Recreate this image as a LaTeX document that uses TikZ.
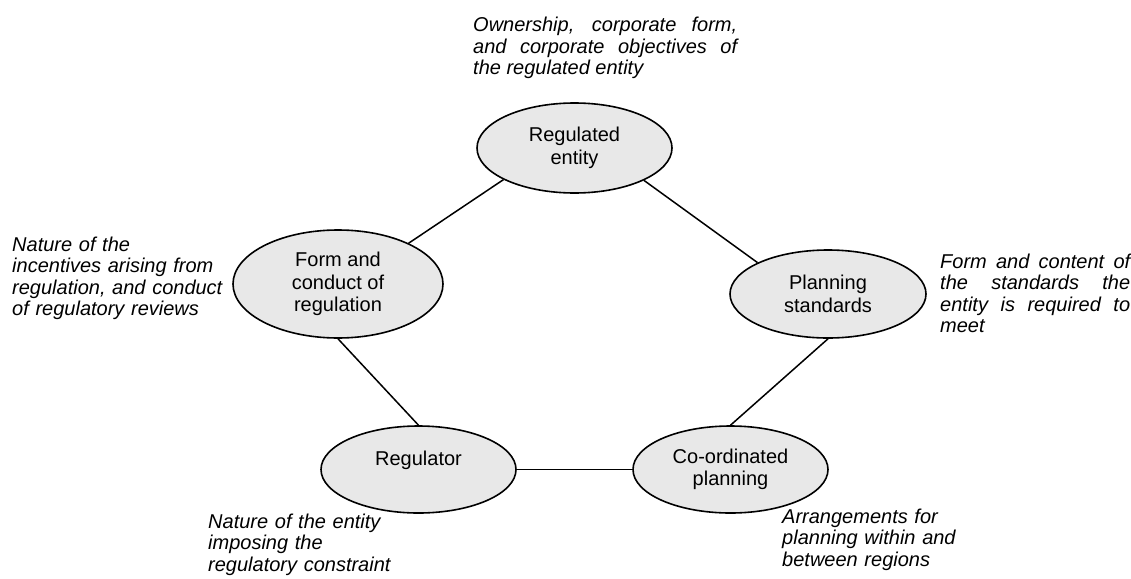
\documentclass[tikz,border=0pt]{standalone}
\usepackage{fontspec}
\setmainfont{Liberation Sans}
\usetikzlibrary{shapes.geometric}
\definecolor{ellfill}{RGB}{232,232,232}
\hyphenpenalty=10000
\exhyphenpenalty=10000
\tikzset{
  ell/.style={ellipse, draw=black, line width=1.6pt, fill=ellfill, inner sep=0pt,
    align=center, font=\fontsize{20}{22.5}\selectfont},
  note/.style={anchor=base west, inner sep=0pt, font=\fontsize{20}{21.5}\selectfont\itshape},
  link/.style={line width=1.5pt, draw=black}
}
\begin{document}
\begin{tikzpicture}[x=1pt,y=-1pt]
\useasboundingbox (0,0) rectangle (1131,578);
% ellipses
\node[ell, minimum width=195pt, minimum height=90pt] (re) at (574.5,148) {Regulated\\entity};
\node[ell, minimum width=210pt, minimum height=108pt] (form) at (338,284) {Form and\\conduct of\\regulation};
\node[ell, minimum width=196pt, minimum height=88pt] (plan) at (828,294) {Planning\\standards};
\node[ell, minimum width=195pt, minimum height=87pt] (reg) at (418.5,469.5) {Regulator\\\mbox{}};
\node[ell, minimum width=195pt, minimum height=87pt] (coord) at (730.5,469.5) {Co-ordinated\\planning};
% connectors
\draw[link] (re.204.7) -- (form.30.4);
\draw[link] (re.335.7) -- (plan.156.1);
\draw[link] (plan.south) -- (coord.north);
\draw[link] (form.south) -- (reg.north);
\draw[link] (reg.east) -- (coord.west);
% annotations
\node[note, text width=264pt, align=justify] (n1) at (473,32)
  {Ownership, corporate form,\linebreak and corporate objectives of\linebreak the regulated entity};
\node[note, text width=230pt, align=left] (n2) at (12,251)
  {Nature of the\\incentives arising from\\regulation, and conduct\\of regulatory reviews};
\node[note, text width=190pt, align=justify] (n3) at (940,268)
  {Form and content of\linebreak the standards the\linebreak entity is required to\linebreak meet};
\node[note, text width=230pt, align=left] (n4) at (208,528)
  {Nature of the entity\\imposing the\\regulatory constraint};
\node[note, text width=230pt, align=left] (n5) at (782,523)
  {Arrangements for\\planning within and\\between regions};
\end{tikzpicture}
\end{document}
